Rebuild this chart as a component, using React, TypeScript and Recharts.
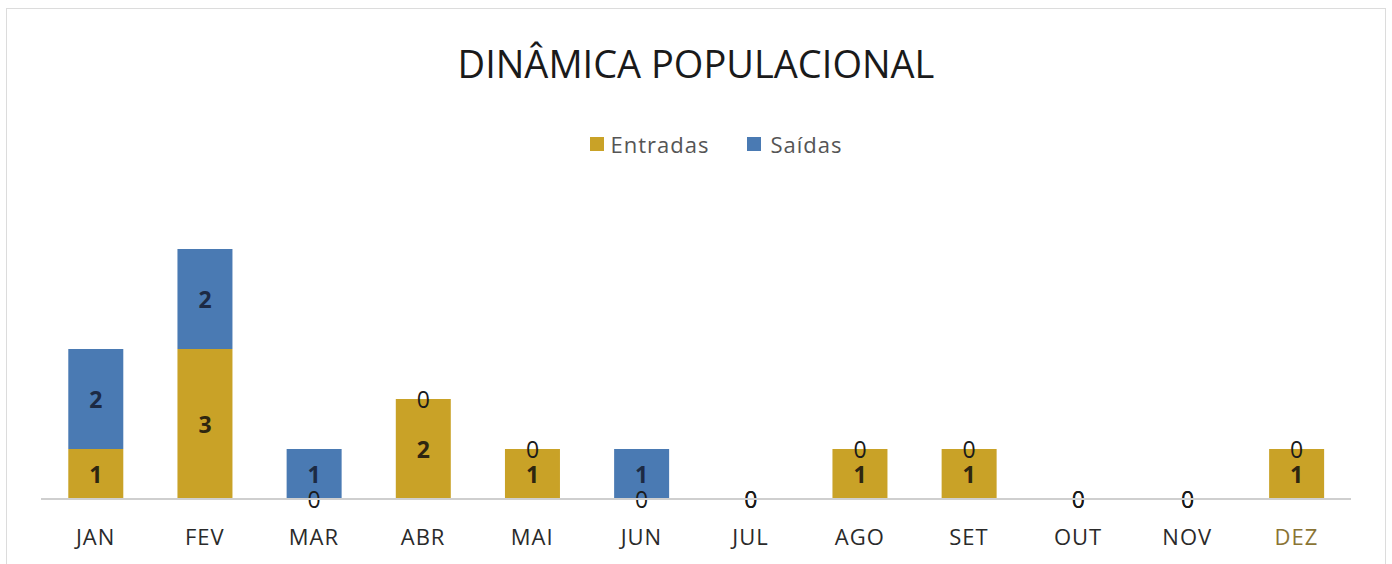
import React from "react";
import { BarChart, Bar, XAxis, YAxis } from "recharts";

const months = ["JAN", "FEV", "MAR", "ABR", "MAI", "JUN", "JUL", "AGO", "SET", "OUT", "NOV", "DEZ"];
const entradas = [1, 3, 0, 2, 1, 0, 0, 1, 1, 0, 0, 1];
const saidas = [2, 2, 1, 0, 0, 1, 0, 0, 0, 0, 0, 0];

const data = months.map((m, i) => ({ month: m, Entradas: entradas[i], "Saídas": saidas[i] }));

const GOLD = "#C9A227";
const BLUE = "#4A7AB3";
const FONT = "'Open Sans', 'Noto Sans', sans-serif";

const Tick = (props: any) => {
  const { x, y, payload } = props;
  const isDez = payload.value === "DEZ";
  return (
    <text x={x} y={y} textAnchor="middle" dy="0.71em" fontSize={22} letterSpacing={1} fontFamily={FONT} fill={isDez ? "#8a7434" : "#2a2a2a"}>
      {payload.value}
    </text>
  );
};

const Num = ({ x, y, v, inside, fill }: any) => (
  <text
    x={x}
    y={y}
    textAnchor="middle"
    dominantBaseline="central"
    fontSize={23}
    fontFamily={FONT}
    fontWeight={inside ? 700 : 400}
    fill={inside ? fill : "#1a1a1a"}
  >
    {v}
  </text>
);

// Entradas: draw rect and its label only when non-zero (zero labels drawn on top by Saídas layer)
const entradasShape = (props: any) => {
  const { x, y, width, height, fill, payload } = props;
  const h = Math.abs(height || 0);
  const v = payload.Entradas;
  if (!(h > 1)) return <g />;
  return (
    <g>
      <rect x={x} y={y} width={width} height={height} fill={fill} />
      <Num x={x + width / 2} y={y + height / 2} v={v} inside fill="#2e2610" />
    </g>
  );
};

const saidasShape = (props: any) => {
  const { x, y, width, height, fill, payload } = props;
  const h = Math.abs(height || 0);
  const inside = h > 1;
  const cx = x + width / 2;
  return (
    <g>
      {inside && <rect x={x} y={y} width={width} height={height} fill={fill} />}
      {payload.Entradas === 0 && <Num x={cx} y={y + (height || 0)} v={payload.Entradas} inside={false} />}
      <Num x={cx} y={y + (height || 0) / 2} v={payload["Saídas"]} inside={inside} fill="#1c2a44" />
    </g>
  );
};

export default function App() {
  return (
    <div style={{ position: "absolute", left: 0, top: 0, width: 1392, height: 564, background: "#fff", fontFamily: FONT }}>
      <div style={{ position: "absolute", left: 6, top: 8, width: 1380, height: 560, border: "1px solid #dcdcdc", boxSizing: "border-box" }} />
      <div style={{ position: "absolute", left: 0, top: 38, width: 1392, textAlign: "center", fontSize: 38, lineHeight: "50px", color: "#1a1a1a", fontFamily: FONT }}>
        DINÂMICA POPULACIONAL
      </div>
      <div style={{ position: "absolute", left: 20, top: 129, width: 1392, height: 30, display: "flex", justifyContent: "center", alignItems: "center", fontFamily: FONT, fontSize: 22, color: "#555", letterSpacing: 1 }}>
        <span style={{ display: "inline-block", width: 14, height: 14, background: GOLD, marginRight: 7 }} />
        <span style={{ marginRight: 38 }}>Entradas</span>
        <span style={{ display: "inline-block", width: 14, height: 14, background: BLUE, marginRight: 9 }} />
        <span>Saídas</span>
      </div>
      <div style={{ position: "absolute", left: 0, top: 0 }}>
        <BarChart width={1392} height={564} data={data} margin={{ top: 249, right: 41, bottom: 25, left: 41 }} barCategoryGap="25%">
          <XAxis dataKey="month" axisLine={{ stroke: "#cfcfcf", strokeWidth: 2 }} tickLine={false} height={40} tick={<Tick />} tickMargin={24} interval={0} />
          <YAxis hide domain={[0, 5]} />
          <Bar dataKey="Entradas" stackId="a" fill={GOLD} isAnimationActive={false} shape={entradasShape} />
          <Bar dataKey="Saídas" stackId="a" fill={BLUE} isAnimationActive={false} shape={saidasShape} />
        </BarChart>
      </div>
    </div>
  );
}
